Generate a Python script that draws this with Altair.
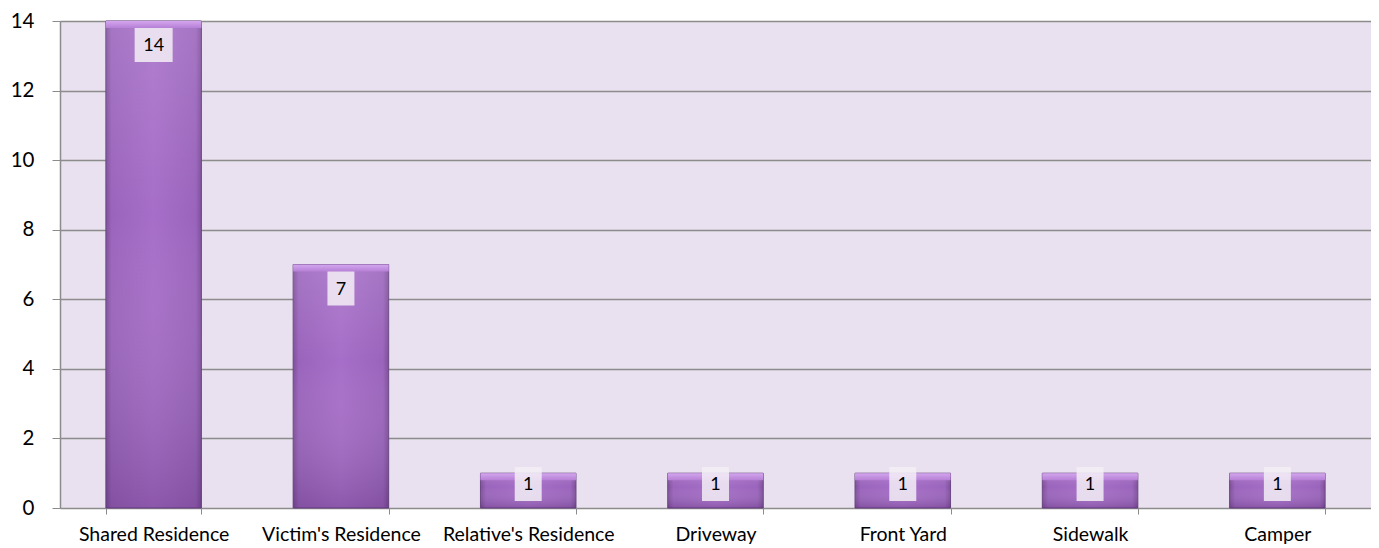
import altair as alt
import pandas as pd

categories = ["Shared Residence", "Victim's Residence", "Relative's Residence",
              "Driveway", "Front Yard", "Sidewalk", "Camper"]
counts = [14, 7, 1, 1, 1, 1, 1]
y_ticks = [0, 2, 4, 6, 8, 10, 12, 14]

df = pd.DataFrame({"cat": categories, "n": counts})

FONT = "Lato"
GRID = "#8c8c8c"

x_enc = alt.X("cat:N", sort=categories, title=None,
              scale=alt.Scale(paddingInner=0.49, paddingOuter=0.245),
              axis=alt.Axis(labelAngle=0, labelFont=FONT, labelFontSize=19.5,
                            labelColor="#000000", tickBand="extent", tickSize=6,
                            tickColor=GRID, domainColor=GRID, labelPadding=11,
                            grid=False))
y_enc = alt.Y("n:Q", title=None,
              scale=alt.Scale(domain=[0, 14], nice=False),
              axis=alt.Axis(values=y_ticks, labelFont=FONT, labelFontSize=20.5,
                            labelColor="#000000", tickSize=8, tickColor=GRID,
                            gridColor=GRID, gridWidth=1.3, domainColor=GRID,
                            domainWidth=1.5, labelPadding=18, grid=True))

base = alt.Chart(df)

bars = base.mark_bar(
    color=alt.Gradient(
        gradient="linear", x1=0, x2=1, y1=0, y2=0,
        stops=[alt.GradientStop(color="#7e4f99", offset=0),
               alt.GradientStop(color="#9a64bc", offset=0.06),
               alt.GradientStop(color="#a66ec8", offset=0.5),
               alt.GradientStop(color="#9a64bc", offset=0.94),
               alt.GradientStop(color="#7e4f99", offset=1)]),
    stroke="#6a4584", strokeWidth=1
).encode(x=x_enc, y=y_enc)

shade = base.mark_bar(
    color=alt.Gradient(
        gradient="linear", x1=0, x2=0, y1=0, y2=1,
        stops=[alt.GradientStop(color="rgba(255,255,255,0.12)", offset=0),
               alt.GradientStop(color="rgba(255,255,255,0.0)", offset=0.4),
               alt.GradientStop(color="rgba(50,10,70,0.22)", offset=1)])
).encode(x=alt.X("cat:N", sort=categories), y=alt.Y("n:Q"))

top = base.transform_calculate(
    ytop="datum.n - 0.2"
).mark_bar(
    color=alt.Gradient(
        gradient="linear", x1=0, x2=0, y1=0, y2=1,
        stops=[alt.GradientStop(color="#d4a6ee", offset=0),
               alt.GradientStop(color="#b680d6", offset=1)])
).encode(x=alt.X("cat:N", sort=categories), y=alt.Y("n:Q"), y2="ytop:Q")

lab = base.transform_calculate(
    ypos="max(datum.n - 0.69, 0.69)",
    box="length(toString(datum.n)) > 1 ? 'M-1,-0.895L1,-0.895L1,0.895L-1,0.895Z' : 'M-0.71,-0.895L0.71,-0.895L0.71,0.895L-0.71,0.895Z'"
)

boxes = lab.mark_point(filled=True, size=1444, opacity=0.85, color="#f3eff6",
                       strokeWidth=0).encode(
    x=alt.X("cat:N", sort=categories), y=alt.Y("ypos:Q"),
    shape=alt.Shape("box:N", scale=None))

texts = lab.mark_text(font=FONT, fontSize=18, color="#000000",
                      baseline="middle", dy=1).encode(
    x=alt.X("cat:N", sort=categories), y=alt.Y("ypos:Q"), text="n:Q")

chart = alt.layer(bars, shade, top, boxes, texts).properties(
    width=1311, height=487,
    padding={"left": 52, "top": 13, "right": 0, "bottom": 38},
    autosize=alt.AutoSizeParams(type="none"),
    background="#ffffff"
).configure_view(fill="#e9e1ef", stroke=None)

chart.save("out.html", embed_options={"renderer": "svg", "actions": False})
